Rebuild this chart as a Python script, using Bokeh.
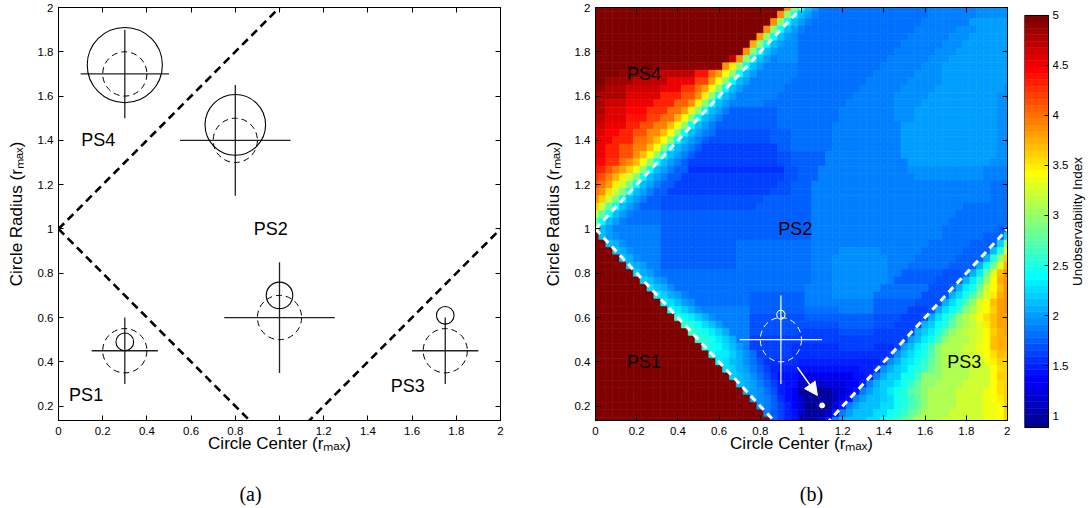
import math
import numpy as np
from bokeh.plotting import figure
from bokeh.layouts import row, column
from bokeh.models import (ColumnDataSource, LinearColorMapper, LinearAxis,
                          FixedTicker, Arrow, NormalHead, Range1d)
from bokeh.core.properties import value
from bokeh.embed import file_html
from bokeh.resources import INLINE

# ---------------- data ----------------
X_TICKS = [0, 0.2, 0.4, 0.6, 0.8, 1, 1.2, 1.4, 1.6, 1.8, 2]
Y_TICKS = [0.2, 0.4, 0.6, 0.8, 1, 1.2, 1.4, 1.6, 1.8, 2]
CB_TICKS = [1, 1.5, 2, 2.5, 3, 3.5, 4, 4.5, 5]
CB_TICK_LABELS = ["1", "1.5", "2", "2.5", "3", "3.5", "4", "4.5", "5"]
INT_LABELS = {0: "0", 1: "1", 2: "2"}
X_RANGE = (0, 2)
Y_RANGE = (0.135, 2)
CB_RANGE = (0.88, 5.0)
X_LABEL = "Circle Center (r\u2098\u2090\u2093)"
Y_LABEL = "Circle Radius (r\u2098\u2090\u2093)"
CB_LABEL = "Unobservability Index"
CAPTIONS = ["(a)", "(b)"]

# region boundaries  r = c + 1,  r = 1 - c,  r = c - 1
BOUNDARY_X = [[0, 1], [0, 1], [1, 2]]
BOUNDARY_Y = [[1, 2], [1, 0], [0, 1]]

# panel (a) sketches: cross = sensor position, dashed circle = true circle, solid = estimate
CROSS_X = [0.3, 0.8, 0.3, 1.0, 1.75]
CROSS_Y = [1.7, 1.4, 0.45, 0.6, 0.45]
CROSS_HALF = [0.2, 0.25, 0.15, 0.25, 0.15]
TRUE_R = [0.1, 0.1, 0.1, 0.1, 0.1]
EST_X = [0.3, 0.8, 0.3, 1.0, 1.75]
EST_Y = [1.74, 1.47, 0.49, 0.70, 0.61]
EST_R = [0.17, 0.137, 0.04, 0.06, 0.04]

PS_TEXT = ["PS4", "PS2", "PS1", "PS3"]
PS_A_X = [0.18, 0.96, 0.125, 1.58]
PS_A_Y = [1.40, 1.0, 0.25, 0.29]
PS_B_X = [0.236, 0.97, 0.236, 1.79]
PS_B_Y = [1.70, 1.0, 0.40, 0.40]

# panel (b) overlay
B_CROSS_X, B_CROSS_Y, B_CROSS_HALF = [0.9], [0.5], [0.2]
B_TRUE_R = [0.1]
B_EST_X, B_EST_Y, B_EST_R = [0.9], [0.613], [0.02]
ARROW_START = (0.98, 0.376)
ARROW_END = (1.077, 0.248)
DOT_X, DOT_Y = [1.1], [0.203]

# heat-map grid: column = circle centre, row = circle radius (top row first)
CENTER_COLUMNS = [k / 30 for k in range(61)]
RADIUS_ROWS = [k / 30 for k in range(60, 3, -1)]
HEAT_ROWS = [
    "5*28 3.85 2.95 2.4 2.15 2.0 1.82*16 1.88*7 1.94*3 1.97*2",
    "5*27 3.85 2.95 2.4 2.15 2.0 1.9 1.82*16 1.88*7 1.96*5",
    "5*26 3.85 2.95 2.4 2.15 2.0 1.9 1.82*16 1.88*7 1.98*6",
    "5*25 3.85 2.95 2.4 2.15 2.0 1.9 1.82*16 1.88*6 1.94*3 2.0*5",
    "5*24 3.8 2.95 2.4 2.15 2.0 1.92 1.82*16 1.88*6 1.94*3 2.0*6",
    "5*23 3.75 2.95 2.4 2.15 2.0 1.93*2 1.82*15 1.88*6 1.94*3 2.0*7",
    "5*22 3.85 2.95 2.4 2.15 2.0 1.93*3 1.82*14 1.88*6 1.94*3 2.0*8",
    "5*20 4.7 3.85 2.95 2.4 2.15 2.0 1.9 1.93*3 1.82*13 1.88*6 1.94*3 2.0*9",
    "5*9 4.9*10 3.9 3.5 2.95 2.4 2.15 2.0 1.9*5 1.82*12 1.88*6 1.94*3 2.0*10",
    "5*4 4.9*5 4.7*6 4.4*2 4.0 3.8 3.45 3.0 2.4 2.15 2.0 1.87*6 1.82*11 1.88*6 1.94*4 2.0*10",
    "5*2 4.85*4 4.7*5 4.5*4 4.2*2 3.8 3.45 3.0 2.4 2.15 2.0 1.86*6 1.8*11 1.88*6 1.94*5 2.0*10",
    "4.9*2 4.8*3 4.65*5 4.5*3 4.25*2 4.0 3.8 3.45 3.0 2.4 2.15 2.0 1.85*6 1.8*11 1.88*6 1.94*5 2.0*10 1.97",
    "4.85 4.75*4 4.55*5 4.3*3 4.1*2 3.85 3.5 3.0 2.4 2.15 2.0 1.85*6 1.8*11 1.88*6 1.94*5 2.01*10 1.97*2",
    "4.8*2 4.65*3 4.5*4 4.3*3 4.05*2 3.85 3.5 3.0 2.4 2.15 2.0 1.85*5 1.8*12 1.88*7 1.94*4 2.01*11 1.97*2",
    "4.75*2 4.6*3 4.45*3 4.25*3 4.0*2 3.8 3.5 3.0 2.4 2.15 2.0 1.88 1.77*7 1.8*9 1.88*8 1.95*3 2.02*12 1.96*2",
    "4.7*2 4.55*3 4.4*3 4.2*2 4.0*2 3.75 3.45 3.0 2.4 2.15 2.0 1.88 1.76*8 1.8*9 1.88*8 1.95*3 2.02*12 1.96*2",
    "4.65*2 4.5*3 4.35*2 4.15*2 3.95*2 3.7 3.45 3.0 2.4 2.15 2.0 1.88 1.75*9 1.8*8 1.88*10 2.02*14 1.96*2",
    "4.6*2 4.45*2 4.3*2 4.1*2 3.9*2 3.7 3.4 3.0 2.4 2.15 2.0 1.88 1.8 1.7*8 1.76*3 1.8*6 1.88*10 2.02*14 1.96*2",
    "4.55 4.5*2 4.3*3 4.0*2 3.9 3.7 3.4 3.0 2.4 2.15 2.0 1.88 1.78 1.66*9 1.74*3 1.8*6 1.88*10 2.02*14 1.96*2",
    "4.5*2 4.35*2 4.15*2 3.95*2 3.7 3.45 3.0 2.4 2.15 2.0 1.88 1.75 1.63*11 1.72*2 1.8*6 1.88*10 2.01*14 1.95*2",
    "4.5*2 4.3*2 4.1*2 3.9 3.7 3.4 3.0 2.4 2.15 2.0 1.88 1.75 1.6*12 1.7*2 1.78*5 1.88*11 2.0*14 1.94*2",
    "4.45*2 4.25*2 4.0 3.85 3.65 3.4 3.0 2.4 2.15 2.0 1.88 1.75 1.6*13 1.7*2 1.78*5 1.88*12 2.0*12 1.94*3",
    "4.4 4.3 4.15 3.95 3.8 3.6 3.35 2.95 2.4 2.15 2.0 1.88 1.72*2 1.58*14 1.68*2 1.75*3 1.88*13 1.96*11 1.9*4",
    "4.25 4.15 3.95 3.75 3.5 3.2 2.9 2.4 2.15 2.0 1.88 1.72*2 1.6*15 1.68*2 1.74*3 1.88*14 1.92*10 1.88*4",
    "4.1 4.0 3.8 3.5 3.2 2.9 2.4 2.15 2.0 1.88 1.72*2 1.62*15 1.7*2 1.74*3 1.88*15 1.9*11 1.84*3",
    "4.0 3.85 3.55 3.2 2.9 2.4 2.15 2.0 1.88 1.74*2 1.65*15 1.7*3 1.72*3 1.9*26 1.82*3",
    "3.9 3.6 3.2 2.9 2.4 2.15 2.0 1.88 1.76*2 1.68*15 1.72*7 1.9*22 1.85*4 1.8*3",
    "3.6 3.2 2.8 2.4 2.15 2.0 1.88 1.78*3 1.7*14 1.74*8 1.9*22 1.8*7",
    "3.2 2.8 2.4 2.15 2.0 1.88 1.8*4 1.72*13 1.76*9 1.9*21 1.8*8",
    "2.8 2.4 2.15 2.0 1.88 1.8*5 1.74*12 1.78*10 1.9*20 1.8*9",
    "2.5 2.15 2.0 1.85*7 1.76*11 1.78*11 1.9*19 1.8*8 1.75 1.8",
    "5 2.15 2.0 1.94 1.85*6 1.76*11 1.78*11 1.9*19 1.8*6 1.72*2 1.75 2.2",
    "5*2 2.15 2.05 1.95 1.85*5 1.76*11 1.8*11 1.9*17 1.8*6 1.72*3 1.75 2.2 2.9",
    "5*3 2.15 2.05 1.95 1.85*4 1.76*11 1.8*11 1.9*4 1.95*6 1.9*6 1.8*6 1.72*3 1.75 2.15 2.55 3.3",
    "5*4 2.15 2.08 1.95 1.85*3 1.76*11 1.8*11 1.9*3 1.95*8 1.9*4 1.8*6 1.72*3 1.75 2.1 2.5 3.0 3.6",
    "5*5 2.15 2.08 1.98 1.88*2 1.78*11 1.8*11 1.9*3 1.95*8 1.9*3 1.8*6 1.72*3 1.75 2.1 2.4 2.85 3.3 3.75",
    "5*6 2.2 2.1 2.0 1.9 1.8*22 1.9*3 1.95*8 1.9*2 1.78*6 1.7*3 1.75 2.1 2.35 2.8 3.3 3.7 3.9",
    "5*7 2.2 2.12 2.02 1.92 1.8*21 1.9*3 1.95*8 1.9 1.78*6 1.7*3 1.75 2.1 2.3 2.6 3.0 3.45 3.75 3.9",
    "5*8 2.25 2.15 2.05 1.94 1.8*19 1.88*4 1.95*7 1.8*7 1.7*3 1.72 2.1 2.3 2.45 2.8 3.2 3.45 3.7 3.85",
    "5*9 2.3 2.2 2.1 1.98 1.9 1.8*9 1.75*8 1.88*4 1.93*6 1.8*7 1.68*3 1.7 2.05 2.28 2.45 2.7 3.0 3.3 3.5 3.75 3.85",
    "5*10 2.35 2.25 2.15 2.02 1.92 1.82*8 1.75*8 1.86*5 1.9*5 1.78*6 1.66*3 1.7 2.05 2.25 2.45 2.7 3.0 3.3 3.45 3.65 3.8 3.85",
    "5*11 2.4 2.3 2.2 2.08 1.96 1.85*7 1.72*8 1.8*5 1.85*5 1.75*5 1.65*3 1.68 2.05 2.25 2.4 2.6 2.9 3.1 3.3 3.45 3.6 3.8 3.85",
    "5*12 2.5 2.4 2.3 2.2 2.05 1.95 1.85*5 1.7*8 1.72*5 1.78*5 1.7*4 1.64*3 1.66 2.08 2.29 2.43 2.68 2.94 3.1 3.2 3.45 3.55 3.7 3.8 3.8",
    "5*13 2.6 2.5 2.4 2.28 2.15 2.02 1.88*4 1.68*7 1.66*6 1.72*5 1.68*3 1.62*3 1.65 2.05 2.22 2.38 2.55 2.8 3.0 3.1 3.15 3.3 3.5 3.7 3.8 3.78",
    "5*14 2.65 2.55 2.45 2.35 2.2 2.05 1.9*3 1.66*7 1.63*6 1.68*5 1.62*5 1.65 2.05 2.2 2.35 2.5 2.75 2.95 3.1 3.15 3.2 3.3 3.45 3.6 3.75 3.8",
    "5*15 2.6 2.55 2.45 2.35 2.2 2.05 1.9*2 1.64*7 1.6*6 1.64*5 1.6*4 1.64 2.0 2.15 2.3 2.43 2.68 2.94 3.07*3 3.2 3.3 3.45 3.66 3.75 3.75",
    "5*16 2.5 2.45 2.38 2.28 2.15 2.02 1.9 1.62*6 1.58*7 1.6*5 1.58*3 1.62 2.0 2.15 2.3 2.43 2.68 2.94 3.07*3 3.2*2 3.33 3.45 3.66 3.72 3.72",
    "5*17 2.4 2.35 2.3 2.18 2.05 1.92 1.8 1.6*5 1.55*7 1.56*5 1.55*2 1.6 1.97 2.12 2.25 2.38 2.5 2.72 2.94 3.07*3 3.2*2 3.3 3.42 3.55 3.65 3.65",
    "5*18 2.3 2.25 2.15 2.05 1.92 1.8 1.68 1.55*5 1.5*10 1.52*2 1.58 1.95 2.1 2.25 2.35 2.43 2.6 2.8 2.94 3.07*3 3.2*3 3.35 3.5 3.6 3.6",
    "5*19 2.25 2.2 2.1 2.0 1.88 1.74 1.62 1.5*4 1.4*5 1.42*4 1.48*2 1.55 1.92 2.08 2.2 2.25 2.43 2.5 2.68 2.85 2.94 3.07*4 3.2*3 3.4 3.55 3.6",
    "5*20 2.2 2.15 2.05 1.95 1.82 1.68 1.55 1.45*3 1.3*4 1.32*4 1.42*2 1.5 1.9 2.08 2.2 2.22 2.43 2.43 2.68 2.94*3 3.07*4 3.2*3 3.45 3.6 3.6",
    "5*21 2.15 2.1 2.0 1.9 1.76 1.62 1.5 1.4*2 1.15*4 1.25*3 1.35*2 1.48 1.88 2.04 2.18 2.2 2.35 2.43 2.6 2.8 2.94*2 3.07*4 3.2*4 3.4 3.55 3.6",
    "5*22 2.1 2.02 1.92 1.8 1.66 1.52 1.42 1.35 1.0*5 1.15*2 1.3 1.45 1.85 2.0 2.15 2.2 2.3 2.43 2.55 2.7 2.85 2.94 3.07*4 3.2*4 3.33 3.45 3.55 3.6",
    "5*23 2.0 1.95 1.85 1.72 1.58 1.45 1.35 1.1 0.95*4 1.1 1.3 1.45 1.86 2.0 2.15 2.15 2.2 2.29 2.43 2.5 2.68 2.8 2.94 3.07*4 3.2*4 3.33 3.4 3.5 3.6",
    "5*24 1.95 1.85 1.75 1.62 1.5 1.38 1.15 0.92*4 1.25 1.45 1.88 2.0 2.15*3 2.29*2 2.43 2.5 2.68 2.8 2.94 3.07*4 3.2*4 3.33*2 3.45 3.6",
    "5*25 1.85 1.75 1.65 1.52 1.4 1.2 0.95*3 1.15 1.4 1.88 2.0 2.15*3 2.29*2 2.43 2.5 2.6 2.75 2.9 3.07*4 3.2*5 3.33*2 3.45 3.6",
    "5*26 1.75 1.6 1.5 1.4 1.2 1.0*2 1.2 1.45 1.9 2.05 2.15*3 2.29*2 2.43 2.5 2.6 2.75 2.9 3.07*4 3.2*6 3.33*2 3.45 3.6",
]

# ---------------- helpers ----------------
SANS = "Liberation Sans"
SERIF = "Liberation Serif"
TICK_FS = "11.5px"
TOP, FRAME_H, BOTTOM = 7, 413, 45


def expand(rowstr, n):
    vals = []
    for tok in rowstr.split():
        if "*" in tok:
            v, k = tok.split("*")
            vals += [float(v)] * int(k)
        else:
            vals.append(float(tok))
    if len(vals) < n:
        vals += [vals[-1]] * (n - len(vals))
    return vals[:n]


def jet(m=64):
    n = int(math.ceil(m / 4))
    u = np.concatenate([np.arange(1, n + 1) / n, np.ones(n - 1), np.arange(n, 0, -1) / n])
    g = int(math.ceil(n / 2)) - (1 if m % 4 == 1 else 0) + np.arange(1, len(u) + 1)
    r = g + n
    b = g - n
    J = np.zeros((m, 3))
    J[r[r <= m] - 1, 0] = u[r <= m]
    J[g[g <= m] - 1, 1] = u[g <= m]
    J[b[b > 0] - 1, 2] = u[b > 0]
    return ["#%02x%02x%02x" % tuple(int(round(255 * c)) for c in rr) for rr in J]


JET = jet(64)


def style_axis(ax, ticks, labels_visible=True, standoff=5, tick_in=5):
    ax.ticker = FixedTicker(ticks=ticks)
    ax.major_label_overrides = dict(INT_LABELS)
    ax.major_tick_in = tick_in
    ax.major_tick_out = 0
    ax.minor_tick_line_color = None
    ax.major_tick_line_color = "black"
    ax.axis_line_color = "black"
    ax.major_label_text_font = SANS
    if labels_visible:
        ax.major_label_text_color = "black"
        ax.major_label_text_font_size = TICK_FS
        ax.major_label_standoff = standoff
    else:
        ax.major_label_text_color = None
        ax.major_label_text_font_size = "1px"
        ax.major_label_standoff = 0


def make_panel(frame_w, left_border, right_border):
    p = figure(frame_width=frame_w, frame_height=FRAME_H,
               x_range=Range1d(*X_RANGE), y_range=Range1d(*Y_RANGE),
               output_backend="svg", toolbar_location=None,
               min_border_left=left_border, min_border_right=right_border,
               min_border_top=TOP, min_border_bottom=BOTTOM)
    p.grid.visible = False
    p.outline_line_color = "black"
    p.outline_line_width = 1
    p.background_fill_color = "white"
    p.border_fill_color = "white"
    style_axis(p.xaxis[0], X_TICKS, True, 6)
    style_axis(p.yaxis[0], Y_TICKS, True, 5)
    for ax, lab, so in [(p.xaxis[0], X_LABEL, -4), (p.yaxis[0], Y_LABEL, 9)]:
        ax.axis_label = lab
        ax.axis_label_text_font = SANS
        ax.axis_label_text_font_size = "17px"
        ax.axis_label_text_font_style = "normal"
        ax.axis_label_text_color = "black"
        ax.axis_label_standoff = so
    top = LinearAxis()
    style_axis(top, X_TICKS, False)
    p.add_layout(top, "above")
    right = LinearAxis()
    style_axis(right, Y_TICKS, False)
    p.add_layout(right, "right")
    return p


# ---------------- panel (a) ----------------
pa = make_panel(442, 58, 30)
pa.multi_line(xs=BOUNDARY_X, ys=BOUNDARY_Y, line_color="black", line_width=2.6, line_dash="8 5")
cx = np.array(CROSS_X); cy = np.array(CROSS_Y); ch = np.array(CROSS_HALF)
pa.segment(x0=cx - ch, y0=cy, x1=cx + ch, y1=cy, line_color="#222222", line_width=1.3)
pa.segment(x0=cx, y0=cy - ch, x1=cx, y1=cy + ch, line_color="#222222", line_width=1.3)
pa.ellipse(x=CROSS_X, y=CROSS_Y, width=[2 * r for r in TRUE_R], height=[2 * r for r in TRUE_R],
           fill_color=None, line_color="black", line_width=1, line_dash="6 4")
pa.ellipse(x=EST_X, y=EST_Y, width=[2 * r for r in EST_R], height=[2 * r for r in EST_R],
           fill_color=None, line_color="black", line_width=1.1)
pa.text(x=PS_A_X, y=PS_A_Y, text=PS_TEXT, text_font=value(SANS), text_font_size=value("18px"),
        text_align="center", text_baseline="middle", text_color="black")

# ---------------- panel (b) ----------------
pb = make_panel(412, 65, 3)
mapper = LinearColorMapper(palette=JET, low=CB_RANGE[0], high=CB_RANGE[1])
hx, hy, hv = [], [], []
for rr, s in zip(RADIUS_ROWS, HEAT_ROWS):
    for cc, vv in zip(CENTER_COLUMNS, expand(s, len(CENTER_COLUMNS))):
        hx.append(cc); hy.append(rr); hv.append(vv)
src = ColumnDataSource(dict(x=hx, y=hy, v=hv))
pb.rect(x="x", y="y", width=1 / 30, height=1 / 30, source=src,
        fill_color={"field": "v", "transform": mapper},
        line_color={"field": "v", "transform": mapper}, line_width=0.6)
pb.multi_line(xs=BOUNDARY_X, ys=BOUNDARY_Y, line_color="white", line_width=3, line_dash="7 5")
bx = np.array(B_CROSS_X); by = np.array(B_CROSS_Y); bh = np.array(B_CROSS_HALF)
pb.segment(x0=bx - bh, y0=by, x1=bx + bh, y1=by, line_color="white", line_width=1.2)
pb.segment(x0=bx, y0=by - bh, x1=bx, y1=by + bh, line_color="white", line_width=1.2)
pb.ellipse(x=B_CROSS_X, y=B_CROSS_Y, width=[2 * r for r in B_TRUE_R], height=[2 * r for r in B_TRUE_R],
           fill_color=None, line_color="white", line_width=1, line_dash="6 4")
pb.ellipse(x=B_EST_X, y=B_EST_Y, width=[2 * r for r in B_EST_R], height=[2 * r for r in B_EST_R],
           fill_color=None, line_color="white", line_width=1.1)
pb.add_layout(Arrow(end=NormalHead(size=13, fill_color="white", line_color="white"),
                    x_start=ARROW_START[0], y_start=ARROW_START[1],
                    x_end=ARROW_END[0], y_end=ARROW_END[1],
                    line_color="white", line_width=1.5))
pb.scatter(x=DOT_X, y=DOT_Y, size=5, fill_color="white", line_color="white")
pb.text(x=PS_B_X, y=PS_B_Y, text=PS_TEXT, text_font=value(SANS), text_font_size=value("18px"),
        text_align="center", text_baseline="middle", text_color="black")

# ---------------- colour bar (bar = 1 x-unit wide, 24 px) ----------------
CB_PX = 24
CB_FRAME_W = 64
px_per_unit = FRAME_H / (CB_RANGE[1] - CB_RANGE[0])
pad_top = 8 / px_per_unit
pad_bot = 8 / px_per_unit
pc = figure(frame_width=CB_FRAME_W, frame_height=FRAME_H + 15,
            x_range=Range1d(0, CB_FRAME_W / CB_PX),
            y_range=Range1d(CB_RANGE[0] - pad_bot, CB_RANGE[1] + pad_top),
            output_backend="svg", toolbar_location=None, x_axis_location=None,
            y_axis_location=None, min_border_left=14, min_border_right=0,
            min_border_top=0, min_border_bottom=TOP + FRAME_H + BOTTOM - (FRAME_H + 15))
pc.grid.visible = False
pc.outline_line_color = None
pc.background_fill_color = "white"
step = (CB_RANGE[1] - CB_RANGE[0]) / len(JET)
pc.quad(left=0, right=1, bottom=[CB_RANGE[0] + i * step for i in range(len(JET))],
        top=[CB_RANGE[0] + (i + 1) * step for i in range(len(JET))],
        fill_color=JET, line_color=JET, line_width=0.5)
pc.quad(left=[0], right=[1], bottom=[CB_RANGE[0]], top=[CB_RANGE[1]],
        fill_color=None, line_color="black", line_width=1)
pc.segment(x0=[1 - 4 / CB_PX] * len(CB_TICKS), x1=[1] * len(CB_TICKS), y0=CB_TICKS, y1=CB_TICKS,
           line_color="black", line_width=1)
pc.text(x=[1 + 4 / CB_PX] * len(CB_TICKS), y=CB_TICKS, text=CB_TICK_LABELS,
        text_font=value(SANS), text_font_size=value(TICK_FS), text_align="left",
        text_baseline="middle", text_color="black")
pc.text(x=[53 / CB_PX], y=[(CB_RANGE[0] + CB_RANGE[1]) / 2], text=[CB_LABEL], angle=math.pi / 2,
        text_font=value(SANS), text_font_size=value("13.5px"), text_align="center",
        text_baseline="middle", text_color="black")

# ---------------- captions strip ----------------
CAP_H = 43
cap = figure(frame_width=1088, frame_height=CAP_H, x_range=Range1d(0, 1088), y_range=Range1d(0, CAP_H),
             output_backend="svg", toolbar_location=None, x_axis_location=None, y_axis_location=None,
             min_border=0)
cap.grid.visible = False
cap.outline_line_color = None
cap.text(x=[250, 811], y=[15, 15], text=CAPTIONS, text_font=value(SERIF),
         text_font_size=value("20px"), text_align="center", text_baseline="middle", text_color="black")

layout = column(row(pa, pb, pc), cap)
open("out.html", "w").write(file_html(layout, INLINE))
